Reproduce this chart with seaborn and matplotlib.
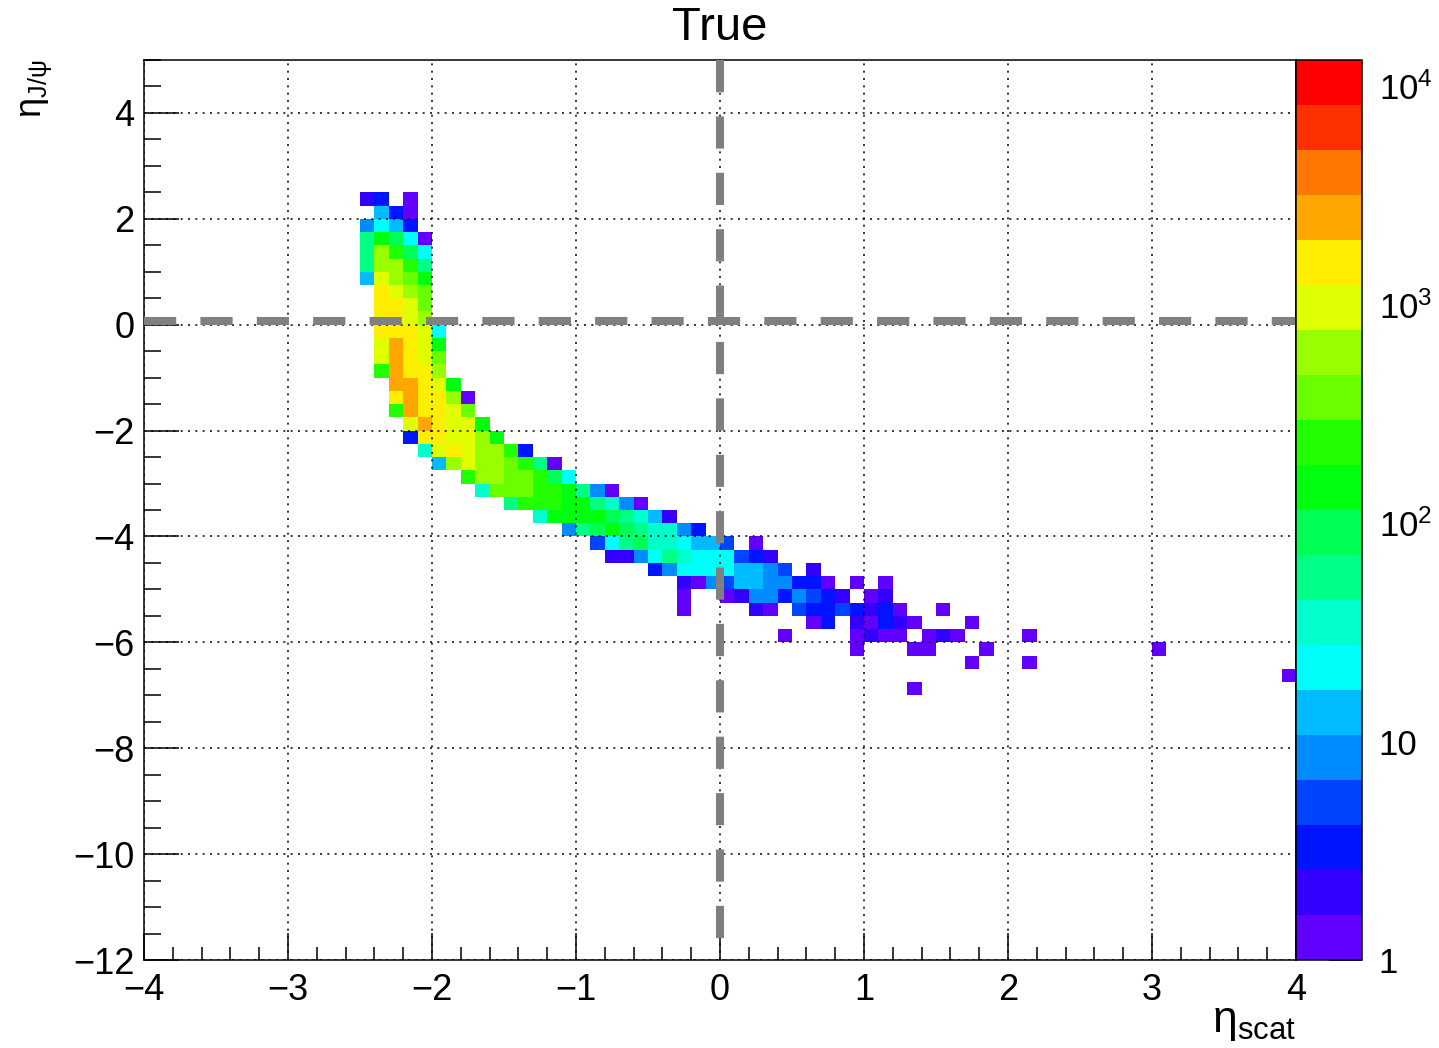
import numpy as np
import pandas as pd
import matplotlib
matplotlib.use("Agg")
import matplotlib.pyplot as plt
import seaborn as sns
from matplotlib.colors import ListedColormap, LogNorm
from matplotlib.ticker import MultipleLocator, LogLocator, NullFormatter

# ---------------- data ----------------
# eta_scat bins: 0.1 wide from -4 to 4 ; eta_J/psi bins: 0.25 wide from -12 to 5
x_edges = np.linspace(-4, 4, 81)
y_edges = np.linspace(-12, 5, 69)

# lower edge of each eta_J/psi row that has entries
row_lower_edge = [2.25, 2.0, 1.75, 1.5, 1.25, 1.0, 0.75, 0.5, 0.25, 0.0,
                  -0.25, -0.5, -0.75, -1.0, -1.25, -1.5, -1.75, -2.0, -2.25, -2.5,
                  -2.75, -3.0, -3.25, -3.5, -3.75, -4.0, -4.25, -4.5, -4.75, -5.0,
                  -5.25, -5.5, -5.75, -6.0, -6.25, -6.5, -6.75, -7.0]
# lower eta_scat edge of the first cell listed in each row
row_first_x = [-2.5, -2.4, -2.5, -2.5, -2.5, -2.5, -2.5, -2.4, -2.4, -2.4,
               -2.4, -2.4, -2.4, -2.4, -2.3, -2.3, -2.3, -2.2, -2.2, -2.1,
               -2.0, -1.8, -1.7, -1.5, -1.3, -1.1, -0.9, -0.8, -0.5, -0.3,
               -0.3, -0.3, 0.6, 0.4, 0.9, 1.7, 3.9, 1.3]
# counts of consecutive eta_scat cells in each row (0 = empty cell)
row_counts = [
    [2, 3, 0, 1],
    [14, 3, 1],
    [8, 22, 14, 3],
    [56, 146, 90, 22, 1],
    [56, 600, 234, 90, 22],
    [56, 600, 600, 234, 56],
    [14, 970, 600, 375, 146],
    [1560, 970, 600, 375],
    [1560, 1560, 970, 375],
    [1560, 1560, 970, 600],
    [1560, 1560, 1560, 970, 22],
    [970, 2500, 1560, 970, 146],
    [970, 2500, 1560, 970, 375],
    [234, 2500, 1560, 1560, 600],
    [2500, 2500, 1560, 970, 146],
    [1560, 2500, 1560, 1560, 600, 1],
    [234, 2500, 1560, 1560, 970, 375],
    [970, 2500, 1560, 970, 970, 146],
    [3, 1560, 1560, 970, 970, 600, 146],
    [35, 970, 1560, 970, 600, 600, 234, 3],
    [14, 600, 970, 600, 600, 375, 234, 56, 1],
    [234, 600, 600, 375, 375, 234, 90, 22],
    [35, 375, 375, 375, 234, 234, 146, 56, 8, 1],
    [56, 234, 234, 234, 146, 146, 56, 35, 8, 1],
    [35, 146, 146, 146, 146, 90, 56, 35, 14, 2],
    [8, 56, 90, 146, 90, 56, 35, 35, 8, 3],
    [5, 22, 56, 90, 35, 35, 22, 14, 14, 5, 0, 1],
    [2, 2, 8, 22, 56, 35, 22, 22, 22, 5, 3, 2],
    [3, 8, 22, 22, 22, 22, 14, 14, 8, 5, 0, 2],
    [2, 1, 8, 5, 14, 14, 8, 8, 3, 3, 1, 0, 1, 0, 1],
    [1, 0, 0, 1, 2, 8, 8, 3, 8, 5, 3, 2, 0, 1, 2],
    [1, 0, 0, 0, 0, 2, 1, 0, 5, 3, 3, 5, 3, 2, 3, 1, 0, 0, 1],
    [1, 3, 0, 2, 1, 3, 2, 1, 0, 0, 0, 1],
    [1, 0, 0, 0, 0, 1, 2, 1, 1, 0, 1, 2, 1, 0, 0, 0, 0, 1],
    [1, 0, 0, 0, 1, 1, 0, 0, 0, 1, 0, 0, 0, 0, 0, 0, 0, 0, 0, 0, 0, 1],
    [1, 0, 0, 0, 1],
    [1],
    [1],
]

x_ticks = [-4, -3, -2, -1, 0, 1, 2, 3, 4]
y_ticks = [-12, -10, -8, -6, -4, -2, 0, 2, 4]
z_range = (1, 13200)
cbar_ticks = [1, 10, 100, 1000, 10000]
cbar_labels = ["1", "10", r"$\mathregular{10^{2}}$", r"$\mathregular{10^{3}}$",
               r"$\mathregular{10^{4}}$"]
# ROOT "pretty" palette, 20 contour levels
palette = ["#6200ff", "#3300ff", "#0014ff", "#0044ff", "#008bff",
           "#00bbff", "#00fffb", "#00ffcc", "#00ff85", "#00ff55",
           "#00ff0e", "#22ff00", "#69ff00", "#99ff00", "#e0ff00",
           "#ffee00", "#ffa700", "#ff7700", "#ff3000", "#ff0000"]

records = []
for y0, x0, counts in zip(row_lower_edge, row_first_x, row_counts):
    for j, c in enumerate(counts):
        if c > 0:
            records.append((round(x0 + 0.1 * j + 0.05, 3), y0 + 0.125, c))
df = pd.DataFrame(records, columns=["eta_scat", "eta_jpsi", "count"])

# ---------------- style ----------------
sns.set_style("ticks", rc={"axes.edgecolor": "black", "text.color": "black",
                           "xtick.color": "black", "ytick.color": "black",
                           "axes.labelcolor": "black"})
plt.rcParams["font.family"] = ["Liberation Sans", "DejaVu Sans"]
plt.rcParams["mathtext.fontset"] = "custom"
plt.rcParams["mathtext.rm"] = "Liberation Sans"
plt.rcParams["mathtext.it"] = "Liberation Sans:italic"
plt.rcParams["mathtext.bf"] = "Liberation Sans:bold"
plt.rcParams["axes.unicode_minus"] = True

W, H = 1439, 1048
fig = plt.figure(figsize=(W / 100, H / 100), dpi=100)
ax = fig.add_axes([144 / W, 1 - 960 / H, 1152 / W, 900 / H])
cax = fig.add_axes([1296 / W, 1 - 960 / H, 66 / W, 900 / H])

cmap = ListedColormap(palette)
sns.histplot(data=df, x="eta_scat", y="eta_jpsi", weights="count",
             bins=[x_edges, y_edges], cmap=cmap, ax=ax, cbar=False)
mesh = ax.collections[0]
mesh.set_cmap(cmap)
mesh.set_norm(LogNorm(*z_range))
mesh.set_zorder(0.5)

ax.set_xlim(-4, 4)
ax.set_ylim(-12, 5)
ax.set_xlabel("")
ax.set_ylabel("")
ax.set_xticks(x_ticks)
ax.set_yticks(y_ticks)
ax.xaxis.set_minor_locator(MultipleLocator(0.2))
ax.yaxis.set_minor_locator(MultipleLocator(0.5))
ax.tick_params(axis="both", which="both", direction="in", width=1.1,
               labelsize=26, top=False, right=False)
ax.tick_params(axis="x", which="major", length=19.5, pad=9)
ax.tick_params(axis="x", which="minor", length=9.7)
ax.tick_params(axis="y", which="major", length=25, pad=7)
ax.tick_params(axis="y", which="minor", length=12.5)
for sp in ax.spines.values():
    sp.set_visible(True)
    sp.set_linewidth(1.1)
    sp.set_color("black")
ax.set_axisbelow(False)
ax.grid(True, which="major", color="black", linewidth=1.1,
        linestyle=(0, (1.3, 3.5)))

# dashed reference lines at zero (the horizontal one sits just above the grid line)
ax.plot([-4, 4], [0.075, 0.075], color="#808080", linewidth=5.8,
        linestyle=(0, (4, 3)), zorder=3, solid_capstyle="butt")
ax.plot([0, 0], [5, -12], color="#808080", linewidth=5.8,
        linestyle=(0, (4, 3)), zorder=3, solid_capstyle="butt")

# colour bar
cb = fig.colorbar(mesh, cax=cax)
cb.outline.set_linewidth(1.1)
cb.outline.set_edgecolor("black")
cax.set_ylim(*z_range)
cax.yaxis.set_ticks(cbar_ticks)
cax.yaxis.set_ticklabels(cbar_labels)
cax.yaxis.set_minor_locator(LogLocator(base=10, subs=np.arange(2, 10)))
cax.yaxis.set_minor_formatter(NullFormatter())
cax.yaxis.set_ticks_position("right")
cax.tick_params(which="both", direction="in", width=1.1, labelsize=25,
                colors="black")
cax.tick_params(which="major", length=24, pad=12)
cax.tick_params(which="minor", length=12)

# titles
fig.text(720 / W, 1 - 28 / H, "True", ha="center", va="center", fontsize=34)
fig.text(1296 / W, 1 - 1002 / H, r"$\mathregular{\eta_{scat}}$",
         ha="right", va="top", fontsize=32)
fig.text(37 / W, 1 - 60 / H, r"$\mathregular{\eta_{J/\psi}}$",
         ha="center", va="top", rotation=90, fontsize=26)

fig.savefig("out.png", dpi=100)
